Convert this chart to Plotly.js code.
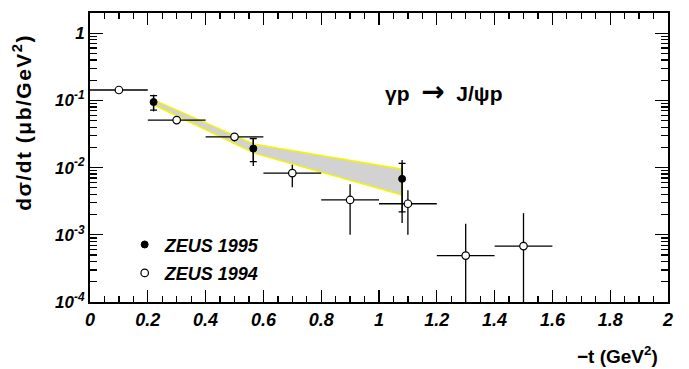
<!DOCTYPE html>
<html>
<head>
<meta charset="utf-8">
<script src="https://cdn.plot.ly/plotly-3.0.1.min.js"></script>
<style>html,body{margin:0;padding:0;background:#fff;}</style>
</head>
<body>
<div id="chart" style="width:689px;height:369px;"></div>
<script>
// ZEUS 1994: bins in -t (centre and half-width), dsigma/dt with errors (ub/GeV^2)
const t94 = [0.1, 0.3, 0.5, 0.7, 0.9, 1.1, 1.3, 1.5];
const t94Half = [0.1, 0.1, 0.1, 0.1, 0.1, 0.1, 0.1, 0.1];
const sig94 = [0.143, 0.051, 0.0287, 0.0083, 0.0033, 0.0029, 0.00049, 0.00068];
const sig94Up = [0.008, 0.003, 0.0036, 0.0027, 0.00235, 0.0017, 0.00097, 0.00142];
const sig94Down = [0.008, 0.003, 0.0042, 0.0032, 0.0023, 0.0019, 0.00041, 0.00059];

// ZEUS 1995: statistical and total errors
const t95 = [0.22, 0.565, 1.08];
const sig95 = [0.0946, 0.0192, 0.0068];
const sig95StatUp = [0.0229, 0.0079, 0.0048];
const sig95StatDown = [0.0228, 0.0069, 0.0046];
const sig95TotUp = [0.0271, 0.0083, 0.0062];
const sig95TotDown = [0.026, 0.0086, 0.0053];

// systematic band for the 1995 measurement
const bandT = [0.22, 0.57, 1.08];
const bandHigh = [0.102, 0.0222, 0.00946];
const bandLow = [0.0863, 0.0163, 0.00392];

// axis labels
const xTickVals = [0, 0.2, 0.4, 0.6, 0.8, 1, 1.2, 1.4, 1.6, 1.8, 2];
const xTickText = ['0', '0.2', '0.4', '0.6', '0.8', '1', '1.2', '1.4', '1.6', '1.8', '2'];
const yTickVals = [1e-4, 1e-3, 1e-2, 1e-1, 1];
const yTickText = ['10<sup>-4</sup>', '10<sup>-3</sup>', '10<sup>-2</sup>', '10<sup>-1</sup>', '1'];

const FONT = 'Liberation Sans, Arial, sans-serif';

// minor log ticks 2..9 in every decade
const yMinor = [];
for (let k = -4; k <= 0; k++) {
  for (let m = 2; m <= 9; m++) {
    const v = m * Math.pow(10, k);
    if (v <= 2) yMinor.push(v);
  }
}

const band = {
  type: 'scatter', mode: 'lines',
  x: bandT.concat(bandT.slice().reverse(), [bandT[0]]),
  y: bandHigh.concat(bandLow.slice().reverse(), [bandHigh[0]]),
  fill: 'toself', fillcolor: '#d2d2d2',
  line: {color: '#f5f500', width: 1.5},
  showlegend: false, hoverinfo: 'skip'
};

const tot95 = {
  type: 'scatter', mode: 'markers',
  x: t95, y: sig95,
  marker: {size: 1, color: 'black'},
  error_y: {type: 'data', symmetric: false, array: sig95TotUp, arrayminus: sig95TotDown,
            width: 0, thickness: 1.3, color: 'black'},
  showlegend: false, hoverinfo: 'skip'
};

const stat95 = {
  type: 'scatter', mode: 'markers', name: 'ZEUS 1995', legendgroup: 'a',
  x: t95, y: sig95,
  marker: {symbol: 'circle', size: 7, color: 'black', line: {color: 'black', width: 1}},
  error_y: {type: 'data', symmetric: false, array: sig95StatUp, arrayminus: sig95StatDown,
            width: 3.5, thickness: 1.3, color: 'black'}
};

const data94 = {
  type: 'scatter', mode: 'markers', name: 'ZEUS 1994', legendgroup: 'b',
  x: t94, y: sig94,
  marker: {symbol: 'circle', size: 7.5, color: 'white', line: {color: 'black', width: 1.2}},
  error_x: {type: 'data', array: t94Half, width: 0, thickness: 1.3, color: 'black'},
  error_y: {type: 'data', symmetric: false, array: sig94Up, arrayminus: sig94Down,
            width: 0, thickness: 1.3, color: 'black'}
};

const layout = {
  width: 689, height: 369,
  margin: {l: 90, r: 21, t: 13, b: 67},
  paper_bgcolor: 'white', plot_bgcolor: 'white',
  font: {family: FONT, color: 'black'},
  showlegend: true,
  legend: {
    x: 0.06, y: 0.262, xanchor: 'left', yanchor: 'top',
    bgcolor: 'rgba(0,0,0,0)', borderwidth: 0,
    font: {family: FONT, size: 18, weight: 'bold', style: 'italic', color: 'black'},
    tracegroupgap: 2, itemwidth: 30
  },
  xaxis: {
    range: [0, 2], showgrid: false, zeroline: false,
    showline: true, linewidth: 2, linecolor: 'black', mirror: 'ticks',
    tickmode: 'array', tickvals: xTickVals, ticktext: xTickText,
    ticks: 'inside', ticklen: 12, tickwidth: 1.3, tickcolor: 'black',
    minor: {dtick: 0.05, tick0: 0, ticks: 'inside', ticklen: 6, tickwidth: 1.3, tickcolor: 'black'},
    tickfont: {family: FONT, size: 18, weight: 'bold', style: 'italic'}
  },
  yaxis: {
    type: 'log', range: [-4, Math.log10(2)], showgrid: false, zeroline: false,
    showline: true, linewidth: 2, linecolor: 'black', mirror: 'ticks',
    tickmode: 'array', tickvals: yTickVals, ticktext: yTickText,
    ticks: 'inside', ticklen: 13, tickwidth: 1.3, tickcolor: 'black',
    minor: {tickmode: 'array', tickvals: yMinor, ticks: 'inside', ticklen: 7, tickwidth: 1.3, tickcolor: 'black'},
    tickfont: {family: FONT, size: 17, weight: 'bold', style: 'italic'}
  },
  annotations: [
    {
      xref: 'paper', yref: 'paper', x: -0.1176, y: 0.62,
      xanchor: 'center', yanchor: 'middle', textangle: -90, showarrow: false,
      text: '<span style="letter-spacing:1.5px">dσ/dt (μb/GeV<sup>2</sup>)</span>',
      font: {family: FONT, size: 21, weight: 'bold'}
    },
    {
      xref: 'paper', yref: 'paper', x: 0.986, y: -0.183,
      xanchor: 'right', yanchor: 'middle', showarrow: false,
      text: '−t (GeV<sup>2</sup>)',
      font: {family: FONT, size: 19, weight: 'bold'}
    },
    {
      xref: 'paper', yref: 'paper', x: 0.6125, y: 0.727,
      xanchor: 'center', yanchor: 'middle', showarrow: false,
      text: 'γp&nbsp; <span style="font-family:DejaVu Sans;font-size:28px">→</span> &nbsp;J/ψp',
      font: {family: FONT, size: 21, weight: 'bold'}
    }
  ]
};

Plotly.newPlot('chart', [band, tot95, stat95, data94], layout, {displayModeBar: false, staticPlot: true});
</script>
</body>
</html>
